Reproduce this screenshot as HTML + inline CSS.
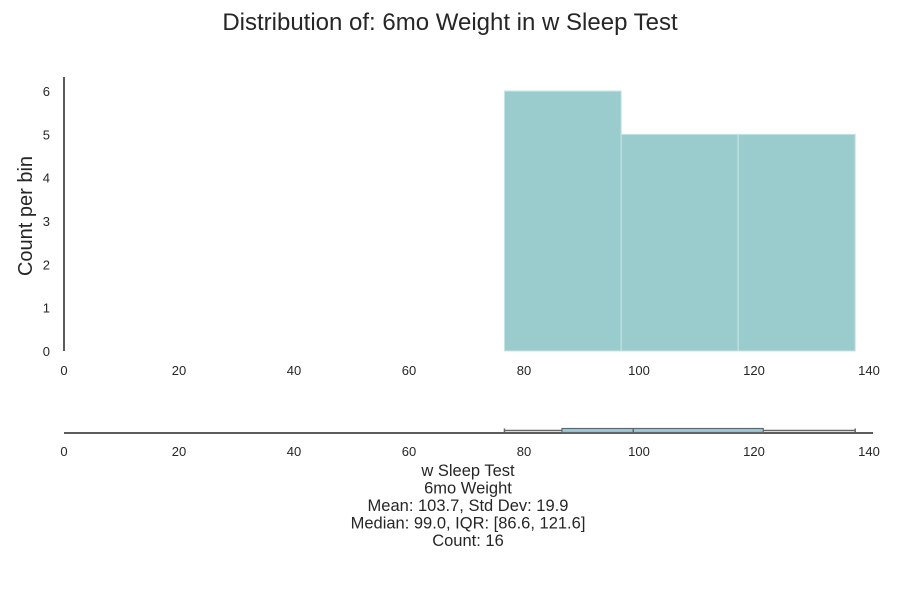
<!DOCTYPE html>
<html><head><meta charset="utf-8"><style>
html,body{margin:0;padding:0;background:#fff;}
svg{display:block;font-family:"Liberation Sans",Arial,sans-serif;}
</style></head><body>
<svg id="c" width="900" height="600"></svg>
<script>
const binEdges=[76.6,96.9,117.25,137.6];
const binCounts=[6,5,5];
const xTicks=[0,20,40,60,80,100,120,140];
const yTicks=[0,1,2,3,4,5,6];
const boxStats=[76.6,86.6,99.0,121.6,137.6]; // min,q1,median,q3,max
const statLines=["w Sleep Test","6mo Weight","Mean: 103.7, Std Dev: 19.9","Median: 99.0, IQR: [86.6, 121.6]","Count: 16"];
const NS="http://www.w3.org/2000/svg";
const svg=document.getElementById('c');
function x(v){return 64+v*5.75;}
function y(v){return 351-v*43.33;}
function mk(tag,attrs,name,text){const e=document.createElementNS(NS,tag);for(const k in attrs)e.setAttribute(k,attrs[k]);


if(text!==undefined)e.textContent=text;svg.appendChild(e);return e;}
mk('text',{x:450,y:30,'text-anchor':'middle','font-size':24,fill:'#262626'},'chart-title','Distribution of: 6mo Weight in w Sleep Test');
mk('text',{x:0,y:0,transform:'translate(32,216) rotate(-90)','text-anchor':'middle','font-size':20,fill:'#262626'},'y-axis-title','Count per bin');
for(let i=0;i<binCounts.length;i++){
 mk('rect',{x:x(binEdges[i]),y:y(binCounts[i]),width:x(binEdges[i+1])-x(binEdges[i]),height:y(0)-y(binCounts[i]),fill:'#9accce',stroke:'#c8e4e5','stroke-width':1},'histogram-bar');
}
mk('line',{x1:64,y1:77,x2:64,y2:351,stroke:'#262626','stroke-width':1.5},'y-axis-line');
yTicks.forEach(t=>mk('text',{x:50,y:y(t)+5,'text-anchor':'end','font-size':13,fill:'#262626'},'y-tick-label',t));
xTicks.forEach(t=>mk('text',{x:x(t),y:375,'text-anchor':'middle','font-size':13,fill:'#262626'},'x-tick-label',t));
const by=430.5;
mk('line',{x1:64,y1:433,x2:873,y2:433,stroke:'#262626','stroke-width':1.5},'boxplot-axis-line');
mk('line',{x1:x(boxStats[0]),y1:by,x2:x(boxStats[1]),y2:by,stroke:'#666','stroke-width':1.5},'whisker-low');
mk('line',{x1:x(boxStats[3]),y1:by,x2:x(boxStats[4]),y2:by,stroke:'#666','stroke-width':1.5},'whisker-high');
mk('line',{x1:x(boxStats[0]),y1:428.5,x2:x(boxStats[0]),y2:432,stroke:'#666','stroke-width':1.5},'whisker-cap-low');
mk('line',{x1:x(boxStats[4]),y1:428.5,x2:x(boxStats[4]),y2:432,stroke:'#666','stroke-width':1.5},'whisker-cap-high');
mk('rect',{x:x(boxStats[1]),y:428.5,width:x(boxStats[3])-x(boxStats[1]),height:4,fill:'#9ccbdc',stroke:'#666','stroke-width':1.2},'box-iqr');
mk('line',{x1:x(boxStats[2]),y1:428.5,x2:x(boxStats[2]),y2:432.5,stroke:'#666','stroke-width':1.5},'box-median');
xTicks.forEach(t=>mk('text',{x:x(t),y:456,'text-anchor':'middle','font-size':13,fill:'#262626'},'box-x-tick-label',t));
statLines.forEach((s,i)=>mk('text',{x:468,y:476+i*17.5,'text-anchor':'middle','font-size':16.5,fill:'#262626'},'stats-line',s));
</script>
</body></html>
